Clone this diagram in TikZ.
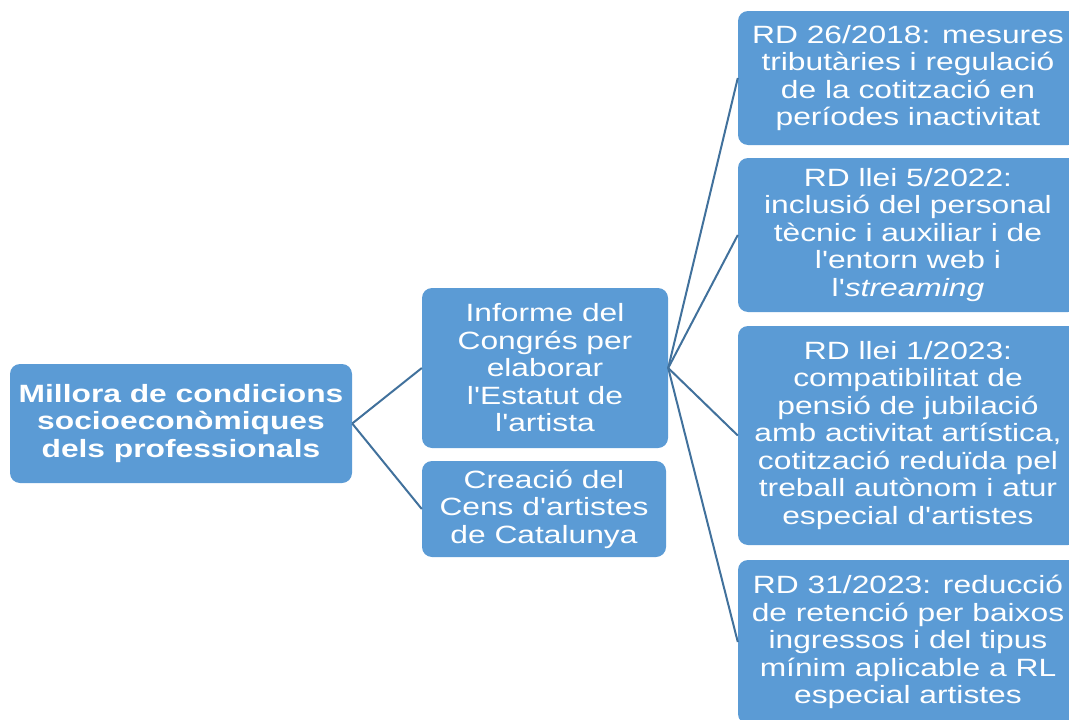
\documentclass[tikz,border=0pt]{standalone}
\usepackage{fontspec}
\setmainfont{Liberation Sans}[FakeStretch=1.27, Ligatures=TeXOff]
\usepackage{tikz}
\usetikzlibrary{positioning}
\definecolor{statboxblue}{RGB}{91,155,213}
\definecolor{statlinkblue}{RGB}{65,113,156}

\begin{document}
\begin{tikzpicture}[
      x=1pt, y=-1pt,
      box/.style={draw=none, fill=statboxblue, rounded corners=10pt, text=white, align=center,
        inner sep=2pt, font=\fontsize{25}{27.5}\selectfont},
      rootbox/.style={box, font=\fontsize{25}{27.5}\selectfont\bfseries},
      link/.style={draw=statlinkblue, line width=2pt}
    ]
      \clip (0,0) rectangle (1069,720);

      \node[rootbox, minimum width=342pt, minimum height=119pt] (root) at (181,423.5)
        {Millora de condicions\\socioeconòmiques\\dels professionals};

      \node[box, minimum width=246pt, minimum height=160pt] (informe) at (545,368)
        {Informe del\\Congrés per\\elaborar\\l'Estatut de\\l'artista};
      \node[box, minimum width=244pt, minimum height=96pt] (cens) at (544,509)
        {Creació del\\Cens d'artistes\\de Catalunya};

      \node[box, minimum width=340pt, minimum height=134pt] (rdA) at (908,78)
        {RD 26/2018: mesures\\tributàries i regulació\\de la cotització en\\períodes inactivitat};
      \node[box, minimum width=340pt, minimum height=154pt] (rdB) at (908,235)
        {RD llei 5/2022:\\inclusió del personal\\tècnic i auxiliar i de\\l'entorn web i\\l'\textit{streaming}};
      \node[box, minimum width=340pt, minimum height=219pt] (rdC) at (908,435.5)
        {RD llei 1/2023:\\compatibilitat de\\pensió de jubilació\\amb activitat artística,\\cotització reduïda pel\\treball autònom i atur\\especial d'artistes};
      \node[box, minimum width=340pt, minimum height=164pt] (rdD) at (908,642)
        {RD 31/2023: reducció\\de retenció per baixos\\ingressos i del tipus\\mínim aplicable a RL\\especial artistes};

      % connectors
      \draw[link] (root.east) -- (informe.west);
      \draw[link] (root.east) -- (cens.west);
      \foreach \n in {rdA, rdB, rdC, rdD}
        \draw[link] (informe.east) -- (\n.west);
    \end{tikzpicture}
\end{document}
